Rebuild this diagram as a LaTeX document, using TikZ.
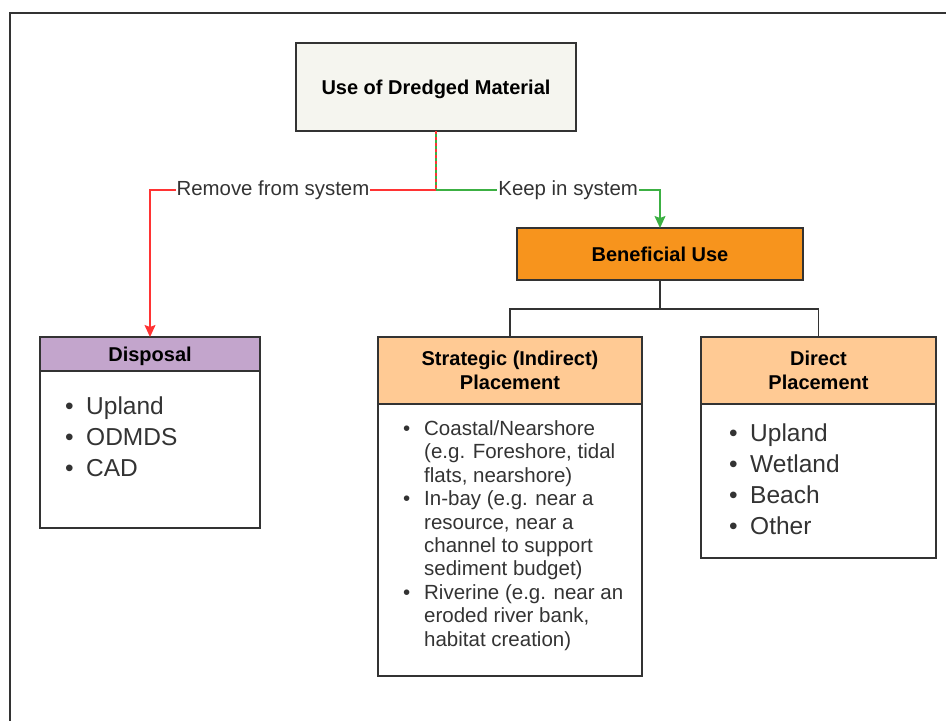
\documentclass[tikz,border=0pt]{standalone}
\usepackage{fontspec}
\setmainfont{Liberation Sans}
\usetikzlibrary{arrows.meta,positioning,shapes}
\definecolor{paper}{HTML}{F5F5EF}
\definecolor{orng}{HTML}{F7941D}
\definecolor{peach}{HTML}{FFCA94}
\definecolor{lilac}{HTML}{C3A5CC}
\definecolor{edge}{HTML}{333333}
\definecolor{redline}{HTML}{FF3333}
\definecolor{greenline}{HTML}{3CB043}
\newcommand{\blt}{\makebox[21bp][l]{\textbullet}}
\newcommand{\gap}{\hspace*{21bp}}
\tikzset{
  box/.style={draw=edge, line width=1.3bp, inner sep=0pt, outer sep=0pt, align=center},
  hdr/.style={box, text=black, text depth=0pt, font=\bfseries\fontsize{20bp}{24bp}\selectfont},
  items/.style={anchor=north west, inner sep=0pt, align=left, text=black!80},
  lbl/.style={fill=white, inner sep=1bp, text=black!80, font=\fontsize{20.4bp}{24bp}\selectfont},
  link/.style={line width=1.3bp}
}

\begin{document}
\begin{tikzpicture}[x=1bp, y=-1bp]
\useasboundingbox (0,0) rectangle (946,721);
\draw[edge, line width=2bp] (10,721) -- (10,13) -- (946,13);

\node[hdr, fill=paper, minimum width=280bp, minimum height=88bp] (dredged) at (436,87) {Use of Dredged Material};
\node[hdr, fill=orng, minimum width=286bp, minimum height=52bp] (benefit) at (660,254) {Beneficial Use};

\node[hdr, fill=lilac, minimum width=220bp, minimum height=34bp] (disphead) at (150,354) {Disposal};
\node[box, minimum width=220bp, minimum height=157bp, below=0pt of disphead] (dispbody) {};
\node[hdr, fill=peach, minimum width=264bp, minimum height=67bp] (strathead) at (510,370.5) {Strategic (Indirect)\\Placement};
\node[box, minimum width=264bp, minimum height=272bp, below=0pt of strathead] (stratbody) {};
\node[hdr, fill=peach, minimum width=235bp, minimum height=67bp] (dirhead) at (818.5,370.5) {Direct\\Placement};
\node[box, minimum width=235bp, minimum height=154bp, below=0pt of dirhead] (dirbody) {};

\node[items, font=\fontsize{24.5bp}{31bp}\selectfont] (displist) at ([shift={(25,26)}]dispbody.north west)
  {\blt Upland\\\blt ODMDS\\\blt CAD};
\node[items, font=\fontsize{20.5bp}{23.4bp}\selectfont] (stratlist) at ([shift={(25,16.5)}]stratbody.north west)
  {\blt Coastal/Nearshore\\\gap (e.g. Foreshore, tidal\\\gap flats, nearshore)\\
   \blt In-bay (e.g. near a\\\gap resource, near a\\\gap channel to support\\\gap sediment budget)\\
   \blt Riverine (e.g. near an\\\gap eroded river bank,\\\gap habitat creation)};
\node[items, font=\fontsize{24.5bp}{31bp}\selectfont] (dirlist) at ([shift={(28,19.5)}]dirbody.north west)
  {\blt Upland\\\blt Wetland\\\blt Beach\\\blt Other};

\coordinate (split) at (436,190);
\coordinate (fork) at (660,309);
\draw[link, greenline] (dredged.south) -- (split);
\draw[link, redline, dash pattern=on 3bp off 3bp] (dredged.south) -- (split);
\draw[link, redline, -{Stealth[length=12bp, width=11bp, inset=2bp]}] (split) -- node[lbl, pos=0.57] {Remove from system} (split -| disphead.north) -- (disphead.north);
\draw[link, greenline, -{Stealth[length=12bp, width=11bp, inset=2bp]}] (split) -- node[lbl, pos=0.59] {Keep in system} (split -| benefit.north) -- (benefit.north);
\draw[link, edge] (benefit.south) -- (fork);
\draw[link, edge] (strathead.north) |- (fork) -| (dirhead.north);
\end{tikzpicture}
\end{document}
